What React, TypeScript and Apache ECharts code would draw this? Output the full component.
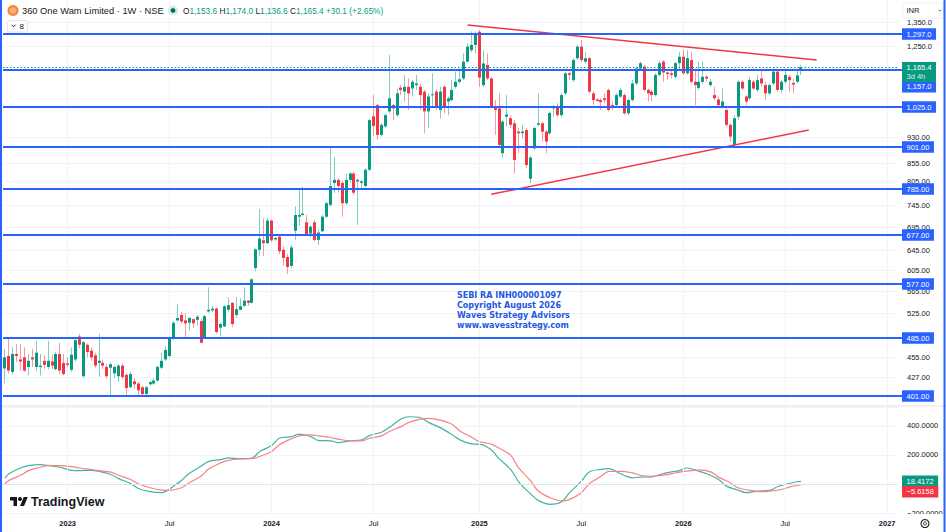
import React, { useEffect, useRef } from "react";
import * as echarts from "echarts";

// ---------- data ----------
const START_UTC = Date.UTC(2022, 8, 12); // first weekly bar (Mon 12 Sep 2022)
const WEEK_COUNT = 228; // bars + empty future weeks up to the right edge
const CATEGORIES: string[] = Array.from({ length: WEEK_COUNT }, (_, k) =>
  new Date(START_UTC + k * 7 * 86400000).toISOString().slice(0, 10)
);

const TIME_TICKS: [string, string][] = [
  ["2023-01-02", "2023"], ["2023-07-03", "Jul"], ["2024-01-01", "2024"], ["2024-07-01", "Jul"],
  ["2025-01-06", "2025"], ["2025-07-07", "Jul"], ["2026-01-05", "2026"], ["2026-07-06", "Jul"],
  ["2027-01-04", "2027"],
];

// [open, close, low, high] weekly
const CANDLES: [number, number, number, number][] = [
  [439,455,418,468],[457,436,432,483],[434,460,431,470],[460,457,448,475],[452,449,436,475],
  [455,436,434,470],[441,450,429,460],[455,452,441,468],[441,462,436,480],[441,443,429,460],
  [450,444,438,458],[441,450,438,480],[449,443,438,458],[438,460,436,463],[460,436,431,477],
  [447,431,429,460],[446,444,441,455],[437,459,434,470],[452,481,449,483],[487,474,468,491],
  [428,478,426,480],[474,463,455,476],[465,455,450,470],[458,443,440,462],[447,450,427,491],
  [447,443,438,452],[441,428,425,445],[440,445,400,447],[432,441,425,443],[428,443,420,445],
  [443,427,424,446],[430,412,401,432],[413,431,412,434],[421,417,411,425],[418,409,403,420],
  [413,404,401,415],[404,413,403,415],[417,420,415,422],[418,422,416,425],[422,441,421,443],
  [440,450,438,462],[452,466,450,472],[457,483,455,486],[484,509,482,512],[513,517,511,541],
  [522,511,508,528],[513,508,486,525],[509,517,497,519],[515,508,500,516],[514,519,505,522],
  [512,477,476,516],[485,520,484,522],[528,531,526,571],[530,533,527,537],[533,494,491,535],
  [501,507,487,510],[503,537,502,539],[531,539,528,553],[543,507,502,544],[522,532,517,553],
  [531,537,530,551],[538,547,536,571],[547,543,538,548],[543,586,542,588],[608,646,602,648],
  [645,669,632,736],[665,659,632,714],[659,709,657,714],[709,665,662,711],[667,670,664,673],
  [673,642,636,677],[645,628,612,652],[630,610,596,636],[612,650,608,655],[686,722,666,742],
  [718,722,697,788],[722,725,720,792],[705,677,674,722],[680,695,671,699],[705,666,663,711],
  [666,682,655,688],[685,718,682,722],[718,750,715,754],[746,793,742,901],[801,809,776,872],
  [809,793,776,813],[801,750,718,805],[750,809,746,826],[809,826,801,830],[826,776,771,830],
  [805,809,699,812],[801,805,784,809],[793,836,789,840],[836,982,832,987],[994,964,932,1065],
  [1031,936,921,1036],[936,967,932,972],[962,998,957,1003],[1010,1054,1004,1213],[1031,1020,982,1036],
  [998,1071,993,1088],[1091,1083,1065,1100],[1077,1094,1042,1137],[1094,1071,1015,1124],[1088,1112,1060,1118],
  [1100,1106,1083,1137],[1094,1065,1015,1106],[1077,1010,941,1083],[1010,1060,957,1071],[1065,1068,1026,1143],
  [1077,1026,1015,1083],[1015,1077,987,1094],[1094,1026,1004,1100],[1043,1054,998,1060],[1048,1083,1043,1118],
  [1094,1112,1088,1149],[1112,1121,1106,1161],[1124,1187,1118,1220],[1187,1246,1184,1260],[1232,1253,1225,1309],
  [1253,1301,1220,1309],[1308,1127,1094,1315],[1100,1180,1094,1232],[1174,1124,1118,1220],[1124,1026,1020,1130],
  [1026,1015,936,1048],[1020,906,901,1071],[882,977,870,982],[993,1000,962,1065],[988,967,957,998],
  [972,863,826,982],[946,941,882,957],[941,946,926,967],[951,849,840,957],[812,870,800,874],
  [896,957,892,962],[967,972,962,1071],[972,946,916,977],[946,916,882,951],[941,1005,936,1010],
  [1020,1026,993,1031],[1026,998,993,1037],[998,1065,993,1071],[1071,1143,1065,1149],[1143,1137,1118,1149],
  [1118,1193,1112,1200],[1200,1246,1193,1253],[1246,1193,1187,1273],[1187,1200,1181,1225],[1200,1077,1071,1206],
  [1071,1048,1031,1077],[1050,1045,1043,1054],[1048,1041,1015,1054],[1054,1048,1037,1071],[1083,1015,1010,1088],
  [1031,1026,1015,1043],[1031,1065,1026,1071],[1060,1083,1054,1088],[1065,1004,998,1071],[1004,1048,998,1054],
  [1048,1106,1043,1118],[1106,1161,1100,1168],[1161,1181,1155,1187],[1168,1083,1077,1174],[1083,1071,1043,1088],
  [1077,1065,1043,1083],[1065,1137,1060,1143],[1137,1181,1130,1187],[1187,1146,1112,1193],[1146,1140,1118,1149],
  [1143,1137,1124,1155],[1130,1181,1124,1187],[1181,1206,1161,1225],[1206,1143,1137,1232],[1143,1200,1137,1232],
  [1193,1112,1106,1225],[1112,1100,1031,1155],[1090,1112,1083,1187],[1112,1130,1106,1187],[1130,1124,1112,1137],
  [1100,1112,1094,1124],[1065,1054,1048,1094],[1050,1031,1026,1060],[1026,1043,1020,1088],[1015,967,962,1020],
  [967,931,916,972],[906,988,903,998],[993,1112,982,1118],[1112,1088,1083,1118],[1060,1043,1031,1065],
  [1054,1118,1048,1130],[1112,1088,1083,1118],[1083,1118,1077,1137],[1124,1106,1094,1155],[1100,1071,1048,1112],
  [1071,1100,1065,1106],[1106,1149,1100,1161],[1149,1083,1077,1155],[1083,1112,1071,1118],[1112,1137,1106,1161],
  [1130,1118,1077,1137],[1108,1102,1071,1124],[1112,1135.3,1106,1160],[1153.6,1165.4,1136.6,1174.0],
];

const LEVELS = [1297, 1157, 1025, 901, 785, 677, 577, 485, 401];
const PRICE_TICKS = [1350, 1250, 930, 855, 805, 745, 695, 645, 605, 565, 525, 455, 427];
const COUNTDOWN = "3d 4h";

const UPPER_TREND: [number, number][] = [[118, 1337], [207, 1193]];
const LOWER_TREND: [number, number][] = [[124, 772], [205, 951]];

// MACD pane: [bar index, value]
const MACD_LINE: [number, number][] = [
  [0,40],[1,70],[4,110],[6,126],[9,133],[11,128],[14,115],[17,94],[19,92],[22,94],[24,87],[27,65],[29,37],
  [32,3],[34,-31],[37,-53],[40,-60],[41,-52],[43,-15],[45,24],[47,72],[50,122],[52,156],[55,167],[57,179],
  [60,174],[63,179],[65,224],[68,265],[70,315],[73,326],[75,343],[78,326],[80,299],[83,297],[85,285],[88,297],
  [91,304],[93,333],[96,356],[98,388],[101,447],[103,463],[106,456],[108,424],[111,388],[114,340],[116,304],
  [119,276],[121,274],[124,236],[126,174],[129,99],[131,15],[134,-67],[136,-113],[139,-140],[142,-122],
  [144,-60],[147,19],[149,83],[152,101],[154,106],[157,70],[160,42],[162,47],[165,49],[167,65],[170,83],
  [172,92],[174,110],[177,87],[179,70],[182,31],[184,-15],[187,-42],[189,-60],[192,-49],[195,-44],[197,-19],
  [200,3],[202,15],[203,18.4172],
];
const SIGNAL_LINE: [number, number][] = [
  [0,1],[1,24],[4,60],[6,92],[9,115],[11,126],[14,126],[17,119],[19,110],[22,99],[24,92],[27,81],[29,60],
  [32,31],[34,1],[37,-26],[40,-42],[42,-44],[45,-26],[47,8],[50,53],[52,104],[55,145],[57,163],[60,172],
  [63,174],[65,190],[68,224],[70,270],[73,311],[75,331],[78,338],[80,331],[83,320],[85,309],[88,297],[91,297],
  [93,315],[96,331],[98,361],[101,395],[103,424],[106,447],[108,452],[111,440],[114,411],[116,365],[119,322],
  [121,292],[124,274],[126,247],[129,197],[131,110],[134,24],[136,-49],[139,-94],[142,-117],[144,-106],
  [147,-60],[149,1],[152,53],[154,87],[157,87],[160,76],[162,60],[165,53],[167,58],[170,70],[172,81],
  [175,92],[177,97],[180,83],[182,47],[185,8],[187,-26],[190,-44],[193,-53],[195,-49],[198,-38],[200,-22],
  [203,-5.6158],
];

const TITLE = "360 One Wam Limited \u00b7 1W \u00b7 NSE";
const WATERMARK = ["SEBI RA INH000001097", "Copyright August 2026", "Waves Strategy Advisors", "www.wavesstrategy.com"];

// axis ranges
const PRICE_MIN = 389.9;
const PRICE_MAX = 1449.6;
const MACD_MIN = -200;
const MACD_MAX = 530;
const MACD_STEP = 200;

// ---------- styles ----------
const UP = "#089981";
const DOWN = "#f23645";
const UP_WICK = "rgba(8,153,129,0.5)";
const DOWN_WICK = "rgba(242,54,69,0.5)";
const BLUE = "#2962ff";
const GRID_COLOR = "#f0f3fa";
const TEXT = "#131722";
const FONT = '"Liberation Sans", Arial, sans-serif';
const AXIS_FONT = `7.5px ${FONT}`;

const TV_LOGO_D = "M14 22H7V11H0V4h14v18zM28 22h-8l7.5-18h8L28 22z";
let logoRegistered = false;
function registerLogo() {
  if (logoRegistered) return;
  echarts.graphic.registerShape("tvlogo", echarts.graphic.extendPath(TV_LOGO_D, {}));
  logoRegistered = true;
}

function fmtPrice(v: number): string {
  if (v >= 1000) return v.toLocaleString("en-US", { minimumFractionDigits: 1, maximumFractionDigits: 1 });
  return v.toFixed(2);
}
function fmtMacd(v: number): string {
  return (v < 0 ? "\u2212" : "") + Math.abs(v).toFixed(4);
}

const TICK_MAP: Record<string, string> = Object.fromEntries(TIME_TICKS);
const isTimeTick = (_i: number, v: string) => v in TICK_MAP;

function txt(text: string, extra: any) {
  return { text, align: "left", verticalAlign: "middle", textAlign: "left", textVerticalAlign: "middle", ...extra };
}

export default function App() {
  const ref = useRef<HTMLDivElement>(null);
  useEffect(() => {
    if (!ref.current) return;
    registerLogo();
    const chart = echarts.init(ref.current, undefined, { renderer: "svg" });
    const last = CANDLES[CANDLES.length - 1];
    const prevClose = CANDLES[CANDLES.length - 2][1];
    const lastPrice = last[1];
    const chg = lastPrice - prevClose;
    const pct = (chg / prevClose) * 100;
    const sign = chg >= 0 ? "+" : "\u2212";
    const legend =
      `{l|O}{v|${fmtPrice(last[0])}} {l|H}{v|${fmtPrice(last[3])}} {l|L}{v|${fmtPrice(last[2])}} {l|C}{v|${fmtPrice(last[1])}} ` +
      `{v|${sign}${Math.abs(chg).toFixed(1)} (${sign}${Math.abs(pct).toFixed(2)}%)}`;
    const lastIdx = CANDLES.length - 1;
    const macdLast = MACD_LINE[MACD_LINE.length - 1][1];
    const sigLast = SIGNAL_LINE[SIGNAL_LINE.length - 1][1];

    const option: any = {
      animation: false,
      backgroundColor: "#ffffff",
      textStyle: { fontFamily: FONT },
      grid: [
        { left: 3, right: 49, top: 0, height: 405 },
        { left: 3, right: 49, top: 407, height: 106 },
      ],
      xAxis: [
        {
          type: "category", gridIndex: 0, data: CATEGORIES, boundaryGap: true,
          axisLine: { show: false }, axisTick: { show: false }, axisLabel: { show: false },
          splitLine: { show: true, interval: isTimeTick, alignWithLabel: true, lineStyle: { color: GRID_COLOR, width: 1 } },
        },
        {
          type: "category", gridIndex: 1, data: CATEGORIES, boundaryGap: true, z: 20,
          axisLine: { show: true, lineStyle: { color: "#e0e3eb", width: 1 } },
          axisTick: { show: false },
          axisLabel: {
            show: true, interval: isTimeTick, margin: 6,
            formatter: (v: string) => {
              const t = TICK_MAP[v];
              if (!t) return "";
              return /^\d/.test(t) ? `{y|${t}}` : `{m|${t}}`;
            },
            rich: {
              y: { fontSize: 7.5, fontWeight: "bold", color: TEXT, fontFamily: FONT },
              m: { fontSize: 7.5, color: TEXT, fontFamily: FONT },
            },
          },
          splitLine: { show: true, interval: isTimeTick, alignWithLabel: true, lineStyle: { color: GRID_COLOR, width: 1 } },
        },
      ],
      yAxis: [
        {
          type: "log", gridIndex: 0, min: PRICE_MIN, max: PRICE_MAX, position: "right",
          axisLine: { show: false }, axisTick: { show: false }, axisLabel: { show: false }, splitLine: { show: false },
        },
        {
          type: "value", gridIndex: 1, min: MACD_MIN, max: MACD_MAX, interval: MACD_STEP, position: "right",
          axisLine: { show: false }, axisTick: { show: false },
          axisLabel: {
            margin: 10, fontSize: 7.5, color: TEXT, showMaxLabel: false, showMinLabel: true,
            formatter: (v: number) => (v === 0 || v % MACD_STEP !== 0 ? "" : fmtMacd(v)),
          },
          splitLine: { show: true, lineStyle: { color: GRID_COLOR, width: 1 } },
        },
      ],
      series: [
        {
          type: "custom", name: "ticks", xAxisIndex: 0, yAxisIndex: 0, z: 1, silent: true,
          data: PRICE_TICKS.map((v) => [0, v]), encode: { x: 0, y: 1 },
          renderItem: (params: any, api: any) => {
            const cs = params.coordSys;
            const v = api.value(1);
            const y = Math.round(api.coord([0, v])[1]) + 0.5;
            return {
              type: "group",
              children: [
                { type: "line", shape: { x1: cs.x, y1: y, x2: cs.x + cs.width, y2: y }, style: { stroke: GRID_COLOR, lineWidth: 1 } },
                { type: "text", x: cs.x + cs.width + 10, y, style: txt(fmtPrice(v), { fill: TEXT, font: AXIS_FONT }) },
              ],
            };
          },
        },
        {
          type: "custom", name: "candles", xAxisIndex: 0, yAxisIndex: 0, z: 2, silent: true,
          dimensions: ["i", "open", "close", "low", "high"],
          data: CANDLES.map((d, i) => [i, d[0], d[1], d[2], d[3]]),
          encode: { x: 0, y: [1, 2, 3, 4] },
          renderItem: (params: any, api: any) => {
            const i = api.value(0);
            const o = api.value(1), c = api.value(2), l = api.value(3), h = api.value(4);
            const pO = api.coord([i, o]);
            const pC = api.coord([i, c]);
            const yL = api.coord([i, l])[1];
            const yH = api.coord([i, h])[1];
            const bx = Math.round(pO[0] - 1.5);
            const up = c >= o;
            const top = Math.min(pO[1], pC[1]);
            const hgt = Math.max(1, Math.abs(pO[1] - pC[1]));
            return {
              type: "group",
              children: [
                { type: "line", shape: { x1: bx + 1.5, y1: yH, x2: bx + 1.5, y2: yL }, style: { stroke: up ? UP_WICK : DOWN_WICK, lineWidth: 1 } },
                { type: "rect", shape: { x: bx, y: top, width: 3, height: hgt }, style: { fill: up ? UP : DOWN } },
              ],
            };
          },
        },
        {
          type: "line", name: "upper", xAxisIndex: 0, yAxisIndex: 0, z: 3, data: UPPER_TREND,
          symbol: "none", silent: true, lineStyle: { color: DOWN, width: 1.5 },
        },
        {
          type: "line", name: "lower", xAxisIndex: 0, yAxisIndex: 0, z: 3, data: LOWER_TREND,
          symbol: "none", silent: true, lineStyle: { color: DOWN, width: 1.5 },
        },
        {
          type: "custom", name: "levels", xAxisIndex: 0, yAxisIndex: 0, z: 4, silent: true,
          data: LEVELS.map((v) => [0, v]), encode: { x: 0, y: 1 },
          renderItem: (params: any, api: any) => {
            const cs = params.coordSys;
            const v = api.value(1);
            const y = Math.round(api.coord([0, v])[1]);
            const yCur = api.coord([0, lastPrice])[1];
            let ly = y;
            if (Math.abs(ly - yCur) < 12) ly = yCur + 19.5;
            return {
              type: "group",
              children: [
                { type: "line", shape: { x1: cs.x, y1: y, x2: cs.x + cs.width + 5, y2: y }, style: { stroke: BLUE, lineWidth: 2 } },
                {
                  type: "text", x: cs.x + cs.width + 5, y: ly, z2: 10,
                  style: txt(fmtPrice(v), { fill: "#ffffff", font: AXIS_FONT, backgroundColor: BLUE, padding: [2, 4.5, 1.5, 4.5] }),
                },
              ],
            };
          },
        },
        {
          type: "custom", name: "last", xAxisIndex: 0, yAxisIndex: 0, z: 5, silent: true,
          data: [[lastIdx, lastPrice]], encode: { x: 0, y: 1 },
          renderItem: (params: any, api: any) => {
            const cs = params.coordSys;
            const v = api.value(1);
            const y = Math.round(api.coord([0, v])[1]) + 0.5;
            const bx = cs.x + cs.width + 5;
            return {
              type: "group",
              children: [
                { type: "line", shape: { x1: cs.x, y1: y, x2: cs.x + cs.width, y2: y }, style: { stroke: UP, lineWidth: 1, lineDash: [1.5, 2] } },
                { type: "rect", shape: { x: bx, y: y - 5.5, width: 34, height: 20 }, style: { fill: UP } },
                { type: "text", x: bx + 4.5, y: y - 0.5, style: txt(fmtPrice(v), { fill: "#ffffff", font: AXIS_FONT }) },
                { type: "text", x: bx + 4.5, y: y + 8.5, style: txt(COUNTDOWN, { fill: "rgba(255,255,255,0.85)", font: AXIS_FONT }) },
              ],
            };
          },
        },
        {
          type: "line", name: "MACD", xAxisIndex: 1, yAxisIndex: 1, z: 3, data: MACD_LINE,
          smooth: 0.35, symbol: "none", silent: true, lineStyle: { color: "#45b3a3", width: 1.2 },
          markLine: {
            silent: true, symbol: ["none", "none"], label: { show: false },
            lineStyle: { color: "#9598a1", type: [3, 3], width: 1 },
            data: [{ yAxis: 0 }],
          },
        },
        {
          type: "line", name: "Signal", xAxisIndex: 1, yAxisIndex: 1, z: 3, data: SIGNAL_LINE,
          smooth: 0.35, symbol: "none", silent: true, lineStyle: { color: "#f7827f", width: 1.2 },
        },
        {
          type: "custom", name: "macdLabels", xAxisIndex: 1, yAxisIndex: 1, z: 6, silent: true,
          data: [[lastIdx, macdLast, 0], [lastIdx, sigLast, 1]], encode: { x: 0, y: 1 },
          renderItem: (params: any, api: any) => {
            const cs = params.coordSys;
            const v = api.value(1);
            const k = api.value(2);
            let y = api.coord([lastIdx, v])[1];
            if (k === 1) {
              const y0 = api.coord([lastIdx, macdLast])[1];
              if (Math.abs(y - y0) < 10.5) y = y0 + 10.5;
            }
            return {
              type: "text", x: cs.x + cs.width + 5, y,
              style: txt(fmtMacd(v), { fill: "#ffffff", font: AXIS_FONT, backgroundColor: k === 0 ? UP : DOWN, padding: [2, 4.5, 1.5, 4.5] }),
            };
          },
        },
      ],
      graphic: [
        // frame of the focused chart
        { type: "line", shape: { x1: 1, y1: 0, x2: 1, y2: 532 }, style: { stroke: BLUE, lineWidth: 2 }, z: 120 },
        { type: "line", shape: { x1: 944.5, y1: 0, x2: 944.5, y2: 532 }, style: { stroke: BLUE, lineWidth: 2 }, z: 120 },
        // pane separator
        { type: "line", shape: { x1: 0, y1: 406, x2: 946, y2: 406 }, style: { stroke: "#e0e3eb", lineWidth: 1 }, z: 8 },
        // time-axis strip
        { type: "rect", shape: { x: 0, y: 514, width: 946, height: 18 }, style: { fill: "#ffffff" }, z: 10 },
        // header
        { type: "circle", shape: { cx: 13, cy: 10.5, r: 5.5 }, style: { fill: "#f7863e" }, z: 50 },
        { type: "circle", shape: { cx: 13, cy: 10.5, r: 3.3 }, style: { fill: "#fab07f" }, z: 51 },
        { type: "text", x: 22, y: 10.5, style: txt(TITLE, { fill: TEXT, font: `9.3px ${FONT}` }), z: 50 },
        { type: "circle", shape: { cx: 173, cy: 10.5, r: 5 }, style: { fill: "#cfeee7" }, z: 50 },
        { type: "circle", shape: { cx: 173, cy: 10.5, r: 2.4 }, style: { fill: "#0b6b57" }, z: 51 },
        {
          type: "text", x: 183, y: 10.5, z: 50,
          style: txt(legend, {
            fill: TEXT, font: `8.3px ${FONT}`,
            rich: { l: { fill: TEXT, fontSize: 8.3, fontFamily: FONT }, v: { fill: UP, fontSize: 8.3, fontFamily: FONT } },
          }),
        },
        { type: "rect", shape: { x: 7.5, y: 20.5, width: 20, height: 11.5, r: 2 }, style: { fill: "#ffffff", stroke: "#e0e3eb", lineWidth: 1 }, z: 50 },
        { type: "polyline", shape: { points: [[11.5, 24.8], [13.5, 26.8], [15.5, 24.8]] }, style: { stroke: TEXT, lineWidth: 1, fill: "none" }, z: 51 },
        { type: "text", x: 19.5, y: 26.5, style: txt("8", { fill: TEXT, font: `8px ${FONT}` }), z: 51 },
        // currency box
        { type: "rect", shape: { x: 903, y: 3, width: 40, height: 15 }, style: { fill: "#ffffff", stroke: "#eef0f4", lineWidth: 1 }, z: 60 },
        { type: "text", x: 906.5, y: 10.5, style: txt("INR", { fill: TEXT, font: `7.5px ${FONT}` }), z: 61 },
        { type: "polyline", shape: { points: [[938.5, 9.8], [940, 11.3], [941.5, 9.8]] }, style: { stroke: "#6a6d78", lineWidth: 1, fill: "none" }, z: 61 },
        // watermark
        {
          type: "text", x: 457, y: 290.5, z: 40,
          style: {
            text: WATERMARK.join("\n"), fill: "#2358e0", font: 'bold 8px "DejaVu Sans", Verdana, sans-serif',
            lineHeight: 10, align: "left", verticalAlign: "top", textAlign: "left", textVerticalAlign: "top",
          },
        },
        // TradingView logo
        { type: "tvlogo", x: 10, y: 495, scaleX: 0.5, scaleY: 0.5, style: { fill: TEXT }, z: 50 },
        { type: "circle", shape: { cx: 20, cy: 499, r: 2 }, style: { fill: TEXT }, z: 50 },
        { type: "text", x: 31, y: 502, style: txt("TradingView", { fill: TEXT, font: `bold 12.5px ${FONT}` }), z: 50 },
        // settings gear
        { type: "circle", shape: { cx: 925, cy: 523.5, r: 4 }, style: { fill: "none", stroke: TEXT, lineWidth: 1.1 }, z: 60 },
        { type: "circle", shape: { cx: 925, cy: 523.5, r: 1.5 }, style: { fill: "none", stroke: TEXT, lineWidth: 1 }, z: 60 },
      ],
    };
    chart.setOption(option);
    return () => chart.dispose();
  }, []);
  return (
    <div
      ref={ref}
      style={{ position: "fixed", left: 0, top: 0, width: 946, height: 532, background: "#ffffff" }}
    />
  );
}
